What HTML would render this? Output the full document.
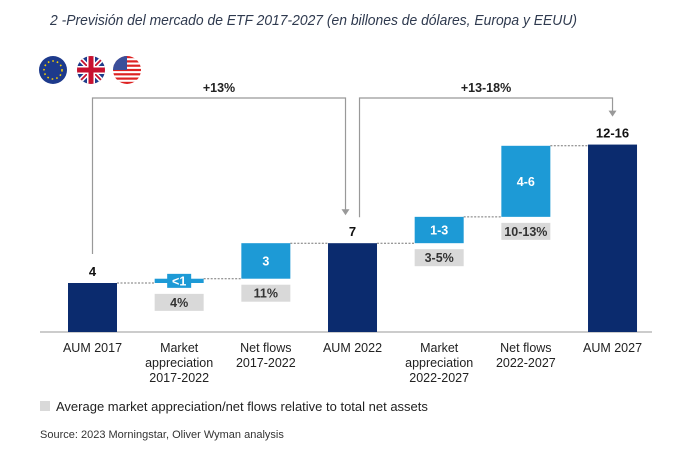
<!DOCTYPE html>
<html><head><meta charset="utf-8"><style>
body{margin:0;background:#fff;}
svg{display:block;font-family:"Liberation Sans",sans-serif;}
</style></head><body>
<svg id="chart" width="700" height="450" viewBox="0 0 700 450">
<text x="50" y="25" font-size="15" font-style="italic" fill="#2f3a4f" textLength="527" lengthAdjust="spacingAndGlyphs">2 -Previsión del mercado de ETF 2017-2027 (en billones de dólares, Europa y EEUU)</text>
<g><circle cx="53" cy="70" r="14" fill="#1d3a8c"/><circle cx="53" cy="70" r="9" fill="none" stroke="#f5d000" stroke-width="1.6" stroke-dasharray="1.6 3"/></g>
<g><clipPath id="cu"><circle cx="91" cy="70" r="14"/></clipPath><g clip-path="url(#cu)"><rect x="77" y="56" width="28" height="28" fill="#1f3b8a"/><path d="M77 56L105 84M105 56L77 84" stroke="#fff" stroke-width="5"/><path d="M77 56L105 84M105 56L77 84" stroke="#c8102e" stroke-width="1.8"/><rect x="77" y="66" width="28" height="8" fill="#fff"/><rect x="87" y="56" width="8" height="28" fill="#fff"/><rect x="77" y="67.5" width="28" height="5" fill="#c8102e"/><rect x="88.5" y="56" width="5" height="28" fill="#c8102e"/></g></g>
<g><clipPath id="cs"><circle cx="127" cy="70" r="14"/></clipPath><g clip-path="url(#cs)"><rect x="113" y="56" width="28" height="28" fill="#fff"/><g fill="#d22"><rect x="113" y="56" width="28" height="2.2"/><rect x="113" y="60.3" width="28" height="2.2"/><rect x="113" y="64.6" width="28" height="2.2"/><rect x="113" y="68.9" width="28" height="2.2"/><rect x="113" y="73.2" width="28" height="2.2"/><rect x="113" y="77.5" width="28" height="2.2"/><rect x="113" y="81.8" width="28" height="2.2"/></g><rect x="113" y="56" width="14" height="14" fill="#3b4f9a"/></g></g>
<g id="marks"></g>
<rect x="40" y="401" width="10" height="10" fill="#d9d9d9"/>
<text x="56" y="411" font-size="13" fill="#222">Average market appreciation/net flows relative to total net assets</text>
<text x="40" y="438" font-size="11" fill="#333">Source: 2023 Morningstar, Oliver Wyman analysis</text>
</svg>
<script>
const categories = [["AUM 2017"],["Market","appreciation","2017-2022"],["Net flows","2017-2022"],["AUM 2022"],["Market","appreciation","2022-2027"],["Net flows","2022-2027"],["AUM 2027"]];
const barKinds = ["total","delta","delta","total","delta","delta","total"];
const barValues = [4, 0.35, 2.9, 7.25, 2.15, 5.8, 15.3];
const valueLabels = ["4","<1","3","7","1-3","4-6","12-16"];
const pctLabels = ["","4%","11%","","3-5%","10-13%",""];
const growthLabels = ["+13%","+13-18%"];
const growthFrom = [0,3];
const growthTo = [3,6];

const NS="http://www.w3.org/2000/svg";
const g=document.getElementById('marks');
const baseY=332, pxPerUnit=12.25, x0=92.5, step=86.67, bw=49;
const yS=v=>baseY-v*pxPerUnit;
const xC=i=>x0+i*step;
function mk(tag,attrs,parent){const e=document.createElementNS(NS,tag);for(const k in attrs)e.setAttribute(k,attrs[k]);(parent||g).appendChild(e);return e;}

const ax=mk('line',{x1:40,x2:652,y1:baseY,y2:baseY,stroke:'#999','stroke-width':1});



let run=0; const tops=[]; const ends=[];
barKinds.forEach((k,i)=>{
  let s,e;
  if(k==='total'){s=0;e=barValues[i];run=e;}else{s=run;e=run+barValues[i];run=e;}
  ends.push(e); tops.push(yS(e));
  const x=xC(i)-bw/2, yt=yS(e), yb=yS(s);
  const r=mk('rect',{x:x,y:yt,width:bw,height:Math.max(yb-yt,1),fill:k==='total'?'#0b2b6e':'#1d9ad6'});
  
  
  if(k==='total'){
    const t=mk('text',{x:xC(i),y:yt-7,'text-anchor':'middle','font-size':13,'font-weight':'bold',fill:'#111'});
    t.textContent=valueLabels[i];
    
    
  } else {
    const h=yb-yt, cy=(yt+yb)/2;
    let bottom=yb;
    if(h<14){
      const b=mk('rect',{x:xC(i)-12,y:cy-7,width:24,height:14,fill:'#1d9ad6'});
      
      
      bottom=cy+7;
    }
    const t=mk('text',{x:xC(i),y:cy+4.5,'text-anchor':'middle','font-size':12.5,'font-weight':'bold',fill:'#fff'});
    t.textContent=valueLabels[i];
    
    
    const pb=mk('rect',{x:x,y:bottom+6,width:bw,height:17,fill:'#d9d9d9'});
    
    
    const pt=mk('text',{x:xC(i),y:bottom+19,'text-anchor':'middle','font-size':12.5,'font-weight':'bold',fill:'#333'});
    pt.textContent=pctLabels[i];
    
    
  }
  if(i<barKinds.length-1){
    const c=mk('line',{x1:xC(i)+bw/2,x2:xC(i+1)-bw/2,y1:yt,y2:yt,stroke:'#777','stroke-width':1,'stroke-dasharray':'2 1.5'});
    
    
  }
  categories[i].forEach((ln,j)=>{
    const t=mk('text',{x:xC(i),y:352+j*15,'text-anchor':'middle','font-size':12.5,fill:'#222'});
    t.textContent=ln;
    
    
  });
});

growthLabels.forEach((lab,k)=>{
  const a=growthFrom[k], b=growthTo[k];
  const xa=xC(a)+(k===0?0:7), xb=xC(b)-(k===0?7:0);
  const ya=tops[a]-(k===0?29:26), yb=tops[b]-(k===0?28:28);
  const p=mk('path',{d:`M${xa} ${ya}V98H${xb}V${yb-5}`,fill:'none',stroke:'#999','stroke-width':1.2});
  
  
  const ar=mk('path',{d:`M${xb-4} ${yb-6}L${xb+4} ${yb-6}L${xb} ${yb}Z`,fill:'#999'});
  
  
  const t=mk('text',{x:(xa+xb)/2,y:92,'text-anchor':'middle','font-size':12.5,'font-weight':'bold',fill:'#222'});
  t.textContent=lab;
  
  
});
</script>
</body></html>
